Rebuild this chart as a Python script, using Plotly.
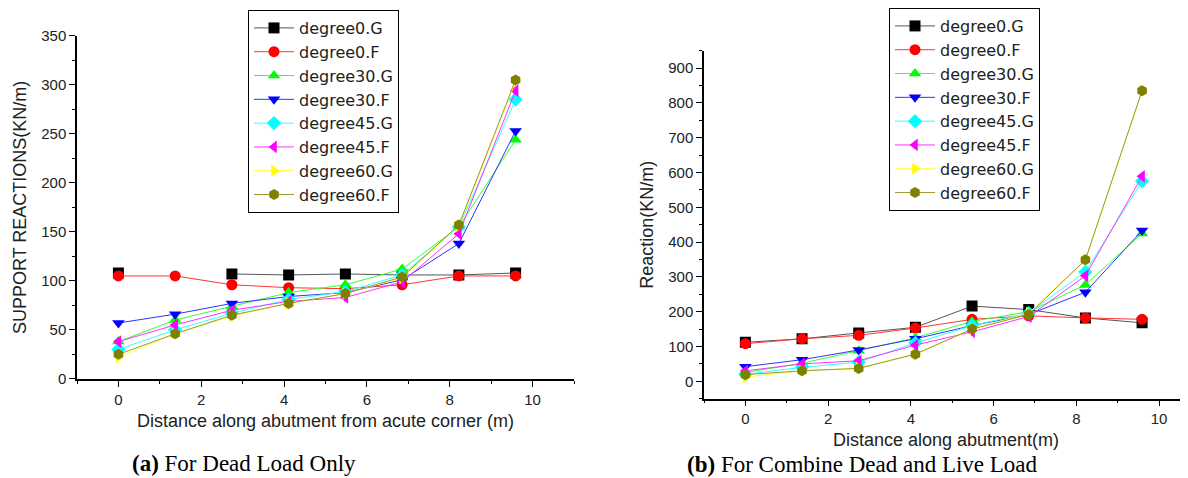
import plotly.graph_objects as go

x_pos = [0, 1.37, 2.74, 4.11, 5.48, 6.85, 8.22, 9.59]

series_names = ["degree0.G", "degree0.F", "degree30.G", "degree30.F",
                "degree45.G", "degree45.F", "degree60.G", "degree60.F"]

# (a) Dead load only
dead_0G = [108, None, 107, 106, 107, 106, 106, 108]
dead_0F = [105, 105, 96, 93, 92, 96, 105, 105]
dead_30G = [38, 60, 74, 88, 96, 112, 155, 244]
dead_30F = [57, 66, 77, 84, 88, 101, 138, 253]
dead_45G = [30, 50, 67, 81, 89, 106, 155, 285]
dead_45F = [38, 55, 70, 79, 83, 99, 148, 294]
dead_60G = [22, 46, 64, 77, 87, 103, 156, 303]
dead_60F = [25, 46, 65, 77, 87, 104, 157, 305]

# (b) Combined dead and live load
comb_0G = [112, 122, 139, 155, 216, 206, 182, 168]
comb_0F = [108, 122, 132, 153, 178, 188, 182, 178]
comb_30G = [25, 52, 88, 125, 172, 200, 277, 425]
comb_30F = [42, 62, 90, 122, 160, 192, 256, 433]
comb_45G = [20, 40, 55, 110, 160, 196, 314, 575]
comb_45F = [30, 50, 59, 104, 142, 186, 303, 589]
comb_60G = [12, 30, 38, 78, 150, 196, 350, 835]
comb_60F = [19, 30, 37, 78, 150, 192, 349, 835]

dead = [dead_0G, dead_0F, dead_30G, dead_30F, dead_45G, dead_45F, dead_60G, dead_60F]
comb = [comb_0G, comb_0F, comb_30G, comb_30F, comb_45G, comb_45F, comb_60G, comb_60F]

colors = ["#000000", "#ff0000", "#00ff00", "#0000ff", "#00ffff", "#ff00ff", "#ffff00", "#808000"]
line_colors = ["#555555", "#ff3333", "#33ff33", "#3333ff", "#33ffff", "#ff33ff", "#ffff33", "#999933"]
symbols = ["square", "circle", "triangle-up", "triangle-down", "diamond",
           "triangle-left", "triangle-right", "hexagon"]

fig = go.Figure()

for i, name in enumerate(series_names):
    fig.add_trace(go.Scatter(
        x=x_pos, y=dead[i], name=name, mode="lines+markers",
        line=dict(color=line_colors[i], width=1),
        marker=dict(color=colors[i], symbol=symbols[i], size=11, line=dict(width=0)),
        connectgaps=False, xaxis="x", yaxis="y", legend="legend",
    ))
for i, name in enumerate(series_names):
    fig.add_trace(go.Scatter(
        x=x_pos, y=comb[i], name=name, mode="lines+markers",
        line=dict(color=line_colors[i], width=1),
        marker=dict(color=colors[i], symbol=symbols[i], size=11, line=dict(width=0)),
        connectgaps=False, xaxis="x2", yaxis="y2", legend="legend2",
    ))

# page body has an 8px margin; figure sized to fill the rest of the window
OX, OY = 8, 8
W, H = 1180, 470

def px(X):
    return (X - OX) / W

def py(Y):
    return 1 - (Y - OY) / H

SANS = "Liberation Sans, Arial"
tickfont = dict(family=SANS, size=15, color="#222222")
titlefont = dict(family=SANS, size=18, color="#222222")

def xax(domain, rng, anchor, title, standoff):
    return dict(
        domain=domain, range=rng, anchor=anchor, automargin=False,
        showline=True, linecolor="black", linewidth=1.5,
        showgrid=False, zeroline=False,
        ticks="outside", ticklen=6, tickwidth=1.2, tickcolor="black",
        dtick=2, tick0=0, tickfont=tickfont,
        minor=dict(dtick=1, tick0=0, ticks="outside", ticklen=3, tickcolor="black", showgrid=False),
        title=dict(text=title, font=titlefont, standoff=standoff),
    )

def yax(domain, rng, anchor, dtick, title, standoff):
    return dict(
        domain=domain, range=rng, anchor=anchor, automargin=False,
        showline=True, linecolor="black", linewidth=1.5,
        showgrid=False, zeroline=False,
        ticks="outside", ticklen=6, tickwidth=1.2, tickcolor="black",
        dtick=dtick, tick0=0, tickfont=tickfont,
        minor=dict(dtick=dtick / 2, tick0=0, ticks="outside", ticklen=3, tickcolor="black", showgrid=False),
        title=dict(text=title, font=titlefont, standoff=standoff),
    )

legend_common = dict(
    bgcolor="white", bordercolor="black", borderwidth=1,
    font=dict(family="DejaVu Sans", size=16, color="#222222"),
    xanchor="left", yanchor="top", tracegroupgap=0, itemwidth=40,
)

fig.update_layout(
    width=W, height=H,
    margin=dict(l=0, r=0, t=0, b=0),
    paper_bgcolor="white", plot_bgcolor="white",
    xaxis=xax([px(77), px(574)], [-1, 11], "y",
              "Distance along abutment from acute corner (m)", 8),
    yaxis=yax([py(378), py(32)], [0, 350], "x", 50, "SUPPORT REACTIONS(KN/m)", 10),
    xaxis2=xax([px(704), 1.0], [-1, 10.7], "y2",
               "Distance along abutment(m)", 7),
    yaxis2=yax([py(398), py(47)], [-50, 950], "x2", 100, "Reaction(KN/m)", 10),
    legend=dict(x=px(248), y=py(6), **legend_common),
    legend2=dict(x=px(889), y=py(4), **legend_common),
    showlegend=True,
    annotations=[
        dict(text="<b>(a)</b> For Dead Load Only", x=px(244), y=py(463),
             xref="paper", yref="paper", showarrow=False, xanchor="center", yanchor="middle",
             font=dict(family="Liberation Serif, Times New Roman", size=23, color="black")),
        dict(text="<b>(b)</b> For Combine Dead and Live Load", x=px(862), y=py(464),
             xref="paper", yref="paper", showarrow=False, xanchor="center", yanchor="middle",
             font=dict(family="Liberation Serif, Times New Roman", size=23, color="black")),
    ],
)

fig.write_html("out.html")
